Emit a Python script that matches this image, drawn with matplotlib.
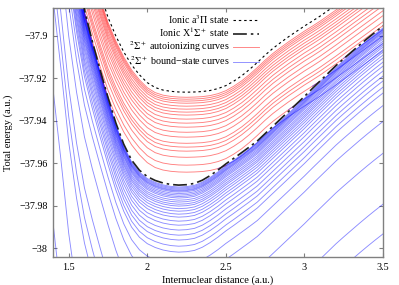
import numpy as np
from matplotlib import pyplot as plt

plt.rcParams['font.family'] = 'Liberation Serif'
plt.rcParams['mathtext.fontset'] = 'stix'

# internuclear distance grid (a.u.)
r_grid = np.array([1.30, 1.35, 1.40, 1.45, 1.50, 1.55, 1.60, 1.65, 1.70, 1.75,
                   1.80, 1.85, 1.90, 1.95, 2.00, 2.05, 2.10, 2.15, 2.20, 2.25,
                   2.30, 2.35, 2.40, 2.45, 2.50, 2.55, 2.60, 2.65, 2.70, 2.75,
                   2.80, 2.85, 2.90, 2.95, 3.00, 3.05, 3.10, 3.15, 3.20, 3.25,
                   3.30, 3.35, 3.40, 3.45, 3.50])

# ionic X 1Sigma+ state
ion_x = np.array([-37.7000, -37.7380, -37.7720, -37.8050, -37.8400, -37.8665, -37.8875, -37.9025, -37.9160, -37.9290,
                  -37.9410, -37.9510, -37.9585, -37.9633, -37.9663, -37.9681, -37.9693, -37.9700, -37.9703, -37.9701,
                  -37.9695, -37.9680, -37.9658, -37.9632, -37.9603, -37.9577, -37.9550, -37.9523, -37.9495, -37.9460,
                  -37.9425, -37.9390, -37.9355, -37.9320, -37.9285, -37.9248, -37.9212, -37.9176, -37.9140, -37.9107,
                  -37.9075, -37.9043, -37.9012, -37.8982, -37.8953])

# ionic a 3Pi state
ion_a = np.array([-37.7300, -37.7570, -37.7820, -37.8040, -37.8230, -37.8400, -37.8550, -37.8680, -37.8800, -37.8912,
                  -37.9000, -37.9075, -37.9136, -37.9183, -37.9220, -37.9243, -37.9255, -37.9261, -37.9264, -37.9265,
                  -37.9264, -37.9262, -37.9257, -37.9248, -37.9234, -37.9213, -37.9188, -37.9158, -37.9125, -37.9090,
                  -37.9058, -37.9030, -37.9003, -37.8978, -37.8953, -37.8930, -37.8906, -37.8880, -37.8854, -37.8827,
                  -37.8800, -37.8773, -37.8746, -37.8719, -37.8692])

# Rydberg curves: energy below their parent ion (a.u.)
red_offsets = [-0.0024, -0.0033, -0.0042, -0.0052, -0.0066, -0.0080, -0.0094, -0.0108,
               -0.0127, -0.0146, -0.0165, -0.0189, -0.0212, -0.0241, -0.0259, -0.0278,
               -0.0307, -0.0344, -0.0377]
blue_offsets = [-0.0009, -0.0014, -0.0019, -0.0024, -0.0028, -0.0033, -0.0040, -0.0047,
                -0.0054, -0.0061, -0.0071, -0.0080, -0.0090, -0.0099, -0.0111, -0.0123,
                -0.0137, -0.0151, -0.0170, -0.0189, -0.0212, -0.0236, -0.0259, -0.0288,
                -0.0316, -0.0375, -0.0450, -0.0600, -0.0840, -0.0980, -0.1100, -0.1530,
                -0.2160]

x_ticks = [1.5, 2.0, 2.5, 3.0, 3.5]
y_ticks = [-38.0, -37.98, -37.96, -37.94, -37.92, -37.9]

RED = (1.0, 0.0, 0.0, 0.5)
BLUE = (0.0, 0.0, 1.0, 0.45)


def grow(mask):
    out = mask.copy()
    out[1:] |= mask[:-1]
    out[:-1] |= mask[1:]
    return out


fig = plt.figure(figsize=(3.99, 2.85), dpi=100)
ax = fig.add_axes([0.1328, 0.0982, 0.8272, 0.8738])

for d in blue_offsets:
    h_blue, = ax.plot(r_grid, ion_x + d, color=BLUE, lw=0.65)

# autoionizing above the X ion, bound once they drop below it
for d in red_offsets:
    e = ion_a + d
    above = e >= ion_x
    h_red, = ax.plot(r_grid, np.where(grow(above), e, np.nan), color=RED, lw=0.65)
    ax.plot(r_grid, np.where(grow(~above), e, np.nan), color=BLUE, lw=0.65)

h_a, = ax.plot(r_grid, ion_a, color='black', lw=0.8, ls=(0, (2.2, 2.6)), zorder=5)
h_x, = ax.plot(r_grid, ion_x, color='#202020', lw=1.2, ls=(0, (8.3, 2.4, 1.5, 2.4)), zorder=5)

ax.set_xlim(1.4, 3.5)
ax.set_ylim(-38.0042, -37.8868)
ax.set_xticks(x_ticks)
ax.set_xticklabels(['%g' % t for t in x_ticks])
ax.set_yticks(y_ticks)
ax.set_yticklabels([('%g' % t).replace('-', '\u2212') for t in y_ticks])
ax.tick_params(direction='in', length=3, width=0.8, color='#808080',
               top=True, right=True, labelsize=7.3, pad=4)
for s in ax.spines.values():
    s.set_color('#808080')
    s.set_linewidth(1.0)

ax.set_xlabel('Internuclear distance (a.u.)', fontsize=7.5, labelpad=3)
ax.set_ylabel('Total energy (a.u.)', fontsize=7.5, labelpad=4)

ax.legend([h_a, h_x, h_red, h_blue],
          ['Ionic a$^3\\Pi$ state', 'Ionic X$^1\\Sigma^+$ state',
           '$^2\\Sigma^+$ autoionizing curves', '$^2\\Sigma^+$ bound\u2212state curves'],
          loc='upper right', bbox_to_anchor=(0.625, 0.98), frameon=False,
          markerfirst=False, fontsize=7.2, handlelength=2.6, handletextpad=0.4,
          labelspacing=0.0, borderpad=0, borderaxespad=0)

fig.savefig('out.png', dpi=100)
